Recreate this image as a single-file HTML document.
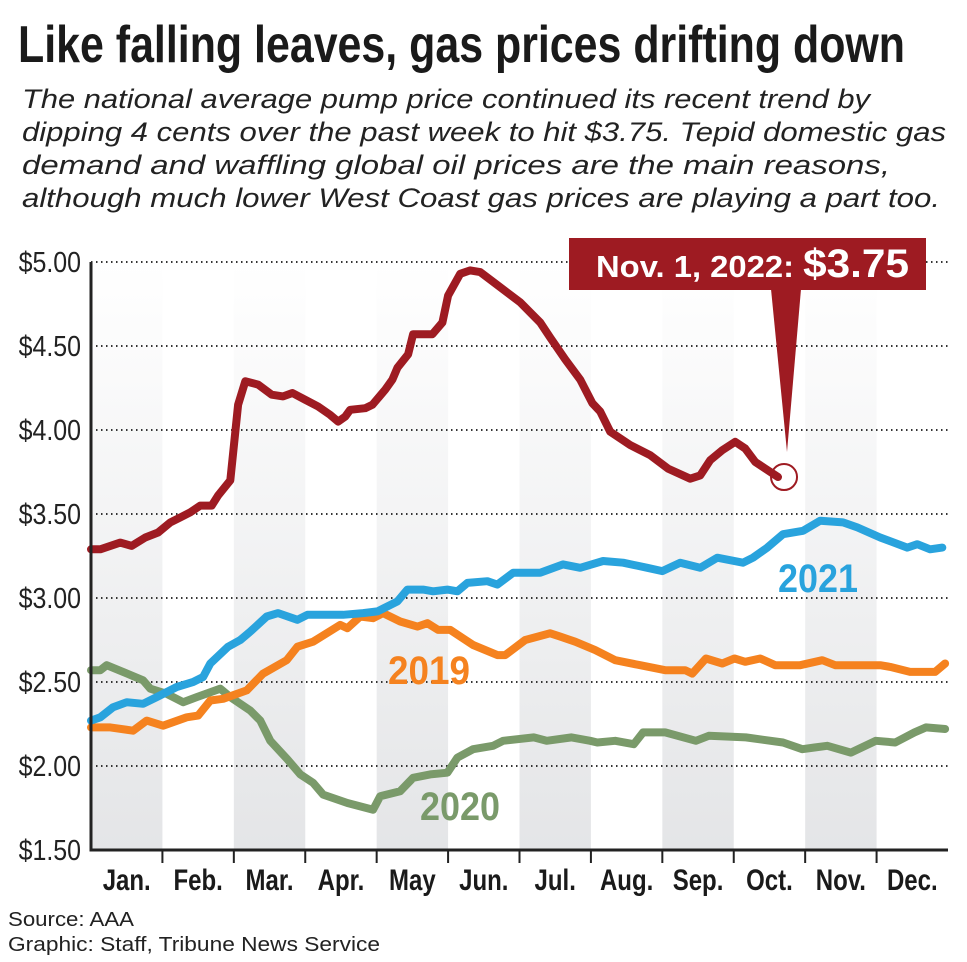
<!DOCTYPE html>
<html><head><meta charset="utf-8"><style>
html,body{margin:0;padding:0;background:#fff;}
svg{display:block;font-family:"Liberation Sans",sans-serif;}
</style></head><body>
<svg id="chart" width="967" height="962" viewBox="0 0 967 962" xmlns="http://www.w3.org/2000/svg">
<defs>
<linearGradient id="band" x1="0" y1="0" x2="0" y2="1">
<stop offset="0" stop-color="#ffffff"/><stop offset="1" stop-color="#e4e5e7"/>
</linearGradient>
</defs>
<text x="18" y="62" font-size="52" font-weight="bold" fill="#1a1a1a" textLength="887" lengthAdjust="spacingAndGlyphs">Like falling leaves, gas prices drifting down</text>
<g font-size="27" font-style="italic" fill="#222">
<text x="22" y="108" textLength="848" lengthAdjust="spacingAndGlyphs">The national average pump price continued its recent trend by</text>
<text x="22" y="141" textLength="924" lengthAdjust="spacingAndGlyphs">dipping 4 cents over the past week to hit $3.75. Tepid domestic gas</text>
<text x="22" y="174" textLength="868" lengthAdjust="spacingAndGlyphs">demand and waffling global oil prices are the main reasons,</text>
<text x="22" y="207" textLength="918" lengthAdjust="spacingAndGlyphs">although much lower West Coast gas prices are playing a part too.</text>
</g>
<g id="bands"></g>
<g id="grid"></g>
<g id="series"></g>
<g id="axes"></g>
<text x="778" y="592" font-size="40" font-weight="bold" fill="#29a3dd" textLength="80" lengthAdjust="spacingAndGlyphs">2021</text>
<text x="388" y="684" font-size="40" font-weight="bold" fill="#f5821f" textLength="82" lengthAdjust="spacingAndGlyphs">2019</text>
<text x="420" y="820" font-size="40" font-weight="bold" fill="#7a9a6a" textLength="80" lengthAdjust="spacingAndGlyphs">2020</text>
<g>
<rect x="569" y="238" width="357" height="52" fill="#9e1b22"/>
<polygon points="771,289 801,289 787,452" fill="#9e1b22"/>
<text x="596" y="277" font-size="31" font-weight="bold" fill="#fff" textLength="313" lengthAdjust="spacingAndGlyphs">Nov. 1, 2022: <tspan font-size="40">$3.75</tspan></text>
</g>
<text x="8" y="926" font-size="20" fill="#222" textLength="126" lengthAdjust="spacingAndGlyphs">Source: AAA</text>
<text x="8" y="951" font-size="20" fill="#222" textLength="372" lengthAdjust="spacingAndGlyphs">Graphic: Staff, Tribune News Service</text>
</svg>
<script>
const months = ["Jan.","Feb.","Mar.","Apr.","May","Jun.","Jul.","Aug.","Sep.","Oct.","Nov.","Dec."];
const yTicks = [1.5,2.0,2.5,3.0,3.5,4.0,4.5,5.0];
const yTickLabels = ["$1.50","$2.00","$2.50","$3.00","$3.50","$4.00","$4.50","$5.00"];
const t2022 = [0,0.13,0.41,0.57,0.76,0.94,1.11,1.25,1.39,1.53,1.69,1.78,1.95,2.06,2.16,2.34,2.53,2.69,2.82,3.0,3.18,3.35,3.46,3.56,3.63,3.84,3.94,4.12,4.22,4.29,4.44,4.51,4.78,4.92,5.0,5.17,5.31,5.45,5.73,6.01,6.29,6.43,6.64,6.85,7.02,7.13,7.27,7.55,7.83,8.08,8.39,8.53,8.67,8.84,9.02,9.16,9.30,9.44,9.62];
const v2022 = [3.29,3.29,3.33,3.31,3.36,3.39,3.45,3.48,3.51,3.55,3.55,3.61,3.70,4.15,4.29,4.27,4.21,4.20,4.22,4.18,4.14,4.09,4.05,4.08,4.12,4.13,4.15,4.24,4.30,4.37,4.45,4.57,4.57,4.64,4.80,4.93,4.95,4.94,4.85,4.76,4.64,4.55,4.42,4.30,4.16,4.11,3.99,3.91,3.85,3.77,3.71,3.73,3.82,3.88,3.93,3.89,3.81,3.77,3.72];
const t2021 = [0,0.13,0.31,0.50,0.73,0.92,1.20,1.43,1.57,1.67,1.92,2.09,2.23,2.46,2.62,2.89,3.03,3.53,3.81,4.01,4.29,4.43,4.65,4.79,4.99,5.13,5.27,5.55,5.69,5.91,6.29,6.61,6.85,7.17,7.45,7.79,8.00,8.25,8.53,8.77,9.13,9.27,9.47,9.69,9.97,10.21,10.53,10.73,11.05,11.43,11.57,11.75,11.92];
const v2021 = [2.27,2.29,2.35,2.38,2.37,2.41,2.47,2.50,2.53,2.61,2.71,2.75,2.80,2.89,2.91,2.87,2.90,2.90,2.91,2.92,2.98,3.05,3.05,3.04,3.05,3.04,3.09,3.10,3.08,3.15,3.15,3.20,3.18,3.22,3.21,3.18,3.16,3.21,3.18,3.24,3.21,3.24,3.30,3.38,3.40,3.46,3.45,3.42,3.36,3.30,3.32,3.29,3.30];
const t2019 = [0,0.13,0.27,0.59,0.78,1.01,1.34,1.50,1.67,1.85,2.18,2.41,2.74,2.89,3.11,3.49,3.59,3.77,3.95,4.09,4.33,4.57,4.71,4.86,5.03,5.35,5.69,5.80,6.08,6.43,6.57,6.78,7.06,7.34,7.69,8.04,8.32,8.42,8.61,8.84,9.01,9.16,9.37,9.58,9.93,10.24,10.42,11.05,11.19,11.47,11.82,11.96];
const v2019 = [2.23,2.23,2.23,2.21,2.27,2.24,2.29,2.30,2.39,2.40,2.45,2.55,2.63,2.71,2.74,2.84,2.82,2.89,2.88,2.91,2.86,2.83,2.85,2.81,2.81,2.72,2.66,2.66,2.75,2.79,2.77,2.74,2.69,2.63,2.60,2.57,2.57,2.55,2.64,2.61,2.64,2.62,2.64,2.60,2.60,2.63,2.60,2.60,2.59,2.56,2.56,2.61];
const t2020 = [0,0.13,0.22,0.45,0.73,0.83,1.06,1.29,1.48,1.81,1.95,2.23,2.37,2.51,2.75,2.93,3.11,3.25,3.59,3.95,4.05,4.33,4.51,4.75,4.99,5.13,5.35,5.63,5.77,6.20,6.38,6.73,6.99,7.09,7.34,7.60,7.73,8.04,8.47,8.65,9.17,9.69,9.96,10.13,10.31,10.64,10.99,11.26,11.53,11.69,11.96];
const v2020 = [2.57,2.57,2.60,2.56,2.51,2.46,2.43,2.38,2.41,2.46,2.41,2.33,2.27,2.15,2.04,1.95,1.90,1.83,1.78,1.74,1.82,1.85,1.93,1.95,1.96,2.05,2.10,2.12,2.15,2.17,2.15,2.17,2.15,2.14,2.15,2.13,2.20,2.20,2.15,2.18,2.17,2.14,2.10,2.11,2.12,2.08,2.15,2.14,2.20,2.23,2.22];

const NS = "http://www.w3.org/2000/svg";
const X0 = 91, X1 = 948, Y0 = 850, Y1 = 262;
function xs(m){ return X0 + (X1 - X0) * m / 12; }
function ys(v){ return Y0 - (Y0 - Y1) * (v - 1.5) / 3.5; }
function mk(tag, parent, attrs){ const e = document.createElementNS(NS, tag); for (const k in attrs) e.setAttribute(k, attrs[k]); parent.appendChild(e); return e; }

const bands = document.getElementById('bands');
for (let i = 0; i < 12; i += 2) {
  const r = mk('rect', bands, {x: xs(i), y: Y1, width: xs(i+1) - xs(i), height: Y0 - Y1, fill: 'url(#band)'});
  
  
}
const grid = document.getElementById('grid');
yTicks.forEach((v, i) => {
  if (v > 1.5) {
    const l = mk('line', grid, {x1: X0, x2: X1, y1: ys(v), y2: ys(v), stroke: '#333', 'stroke-width': 2, 'stroke-dasharray': '1.5 3.5'});
    
    
  }
  const t = mk('text', grid, {x: 0, y: 0, 'text-anchor': 'end', 'font-size': 29, fill: '#222', transform: 'translate(81,' + (ys(v) + 10) + ') scale(0.86,1)'});
  t.textContent = yTickLabels[i];
  
  
});
const series = document.getElementById('series');
function drawLine(ts, vs, color, name){
  const d = ts.map((t, i) => (i ? 'L' : 'M') + xs(t).toFixed(1) + ',' + ys(vs[i]).toFixed(1)).join(' ');
  const p = mk('path', series, {d: d, fill: 'none', stroke: color, 'stroke-width': 8, 'stroke-linejoin': 'round', 'stroke-linecap': 'round'});
  
  
}
drawLine(t2020, v2020, '#7a9a6a', 'line-2020');
drawLine(t2019, v2019, '#f5821f', 'line-2019');
drawLine(t2021, v2021, '#29a3dd', 'line-2021');
drawLine(t2022, v2022, '#9e1b22', 'line-2022');
const last = t2022.length - 1;
const c = mk('circle', series, {cx: xs(t2022[last]) + 6, cy: ys(v2022[last]), r: 13, fill: 'none', stroke: '#9e1b22', 'stroke-width': 2});



const axes = document.getElementById('axes');
const ya = mk('line', axes, {x1: X0, x2: X0, y1: Y1, y2: Y0 + 1.5, stroke: '#222', 'stroke-width': 3});


const xa = mk('line', axes, {x1: X0, x2: X1, y1: Y0, y2: Y0, stroke: '#222', 'stroke-width': 3});


months.forEach((m, i) => {
  if (i > 0) {
    const tk = mk('line', axes, {x1: xs(i), x2: xs(i), y1: Y0, y2: Y0 + 13, stroke: '#222', 'stroke-width': 2});
    
    
  }
  const cx = (xs(i) + xs(i+1)) / 2;
  const t = mk('text', axes, {x: 0, y: 0, 'text-anchor': 'middle', 'font-size': 30, 'font-weight': 'bold', fill: '#1a1a1a', transform: 'translate(' + cx + ',890) scale(0.8,1)'});
  t.textContent = m;
  
  
});
</script>
</body></html>
